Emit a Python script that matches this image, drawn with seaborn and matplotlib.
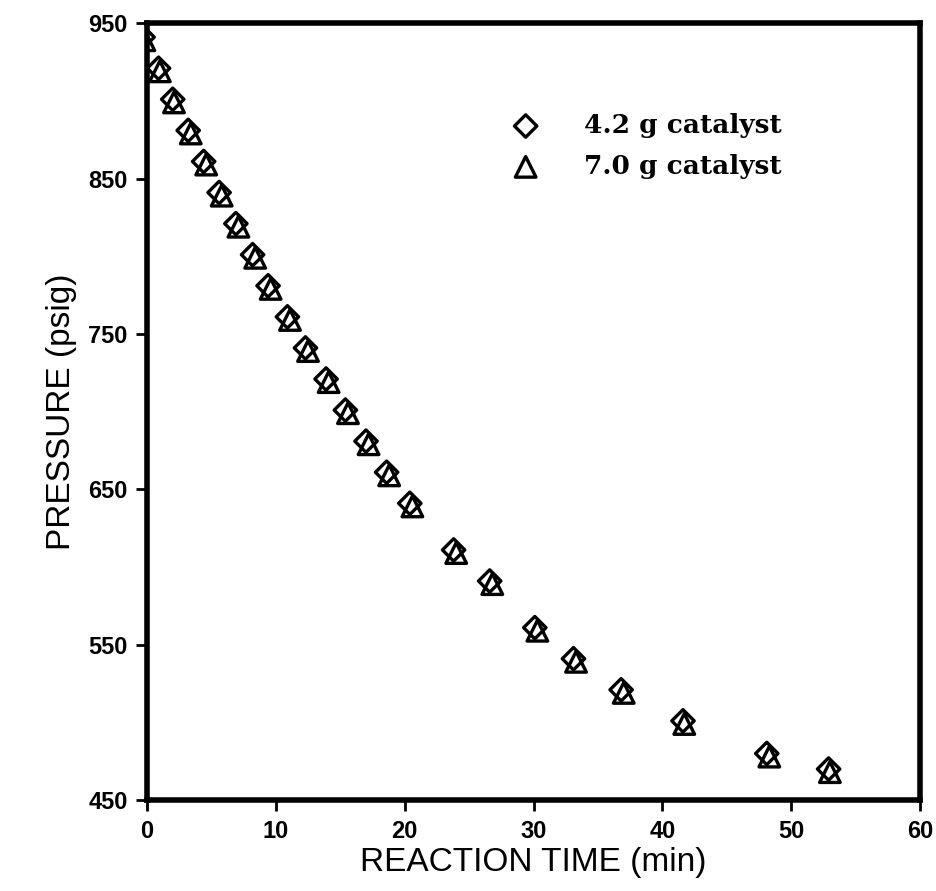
import pandas as pd
import seaborn as sns
import matplotlib.pyplot as plt

sns.set_style("white")
plt.rcParams['font.family'] = ['Liberation Sans', 'DejaVu Sans']
plt.rcParams['text.color'] = 'black'
plt.rcParams['axes.labelcolor'] = 'black'
plt.rcParams['xtick.color'] = 'black'
plt.rcParams['ytick.color'] = 'black'

# data (reaction time in min, pressure in psig)
time_42 = [-0.3, 0.9, 2.0, 3.2, 4.4, 5.6, 6.9, 8.2, 9.4, 10.9, 12.3, 13.9, 15.4,
           17.0, 18.6, 20.4, 23.8, 26.6, 30.1, 33.1, 36.8, 41.6, 48.1, 52.9]
press_42 = [941, 921, 901, 881, 861, 841, 821, 801, 781, 761, 741, 721, 701,
            681, 661, 641, 611, 591, 561, 541, 521, 501, 480, 470]
time_70 = [-0.2, 1.0, 2.1, 3.4, 4.6, 5.8, 7.1, 8.4, 9.6, 11.1, 12.5, 14.1, 15.6,
           17.2, 18.8, 20.6, 24.0, 26.8, 30.3, 33.3, 37.0, 41.7, 48.3, 53.0]
press_70 = [939, 919, 899, 879, 859, 839, 819, 799, 779, 759, 739, 719, 699,
            679, 659, 639, 609, 589, 559, 539, 519, 499, 478, 468]

df42 = pd.DataFrame({'time': time_42, 'pressure': press_42})
df70 = pd.DataFrame({'time': time_70, 'pressure': press_70})

fig = plt.figure(figsize=(9.36, 8.91), dpi=100)
ax = fig.add_axes([0.157, 0.102, 0.826, 0.872])

sns.scatterplot(data=df70, x='time', y='pressure', marker='^', s=220,
                facecolor='none', edgecolor='black', linewidth=2.4,
                label='7.0 g catalyst', ax=ax, zorder=3)
sns.scatterplot(data=df42, x='time', y='pressure', marker='D', s=130,
                facecolor='none', edgecolor='black', linewidth=2.4,
                label='4.2 g catalyst', ax=ax, zorder=4)

ax.set_xlim(0, 60)
ax.set_ylim(450, 950)
ax.set_xticks(range(0, 61, 10))
ax.set_yticks([450, 550, 650, 750, 850, 950])
ax.tick_params(direction='out', length=8, width=2, labelsize=17, pad=6,
               bottom=True, left=True)
for lbl in ax.get_xticklabels() + ax.get_yticklabels():
    lbl.set_fontweight('bold')
for sp in ax.spines.values():
    sp.set_linewidth(4)
    sp.set_color('black')

ax.set_xlabel('REACTION TIME (min)', fontsize=24, labelpad=3)
ax.set_ylabel('PRESSURE (psig)', fontsize=24, labelpad=8)

handles, labels = ax.get_legend_handles_labels()
leg = ax.legend(handles[::-1], labels[::-1], loc='upper left',
                bbox_to_anchor=(0.425, 0.915), frameon=False, handletextpad=1.2,
                labelspacing=0.6, prop={'family': 'DejaVu Serif', 'weight': 'bold', 'size': 19})

plt.savefig('out.png', dpi=100)
